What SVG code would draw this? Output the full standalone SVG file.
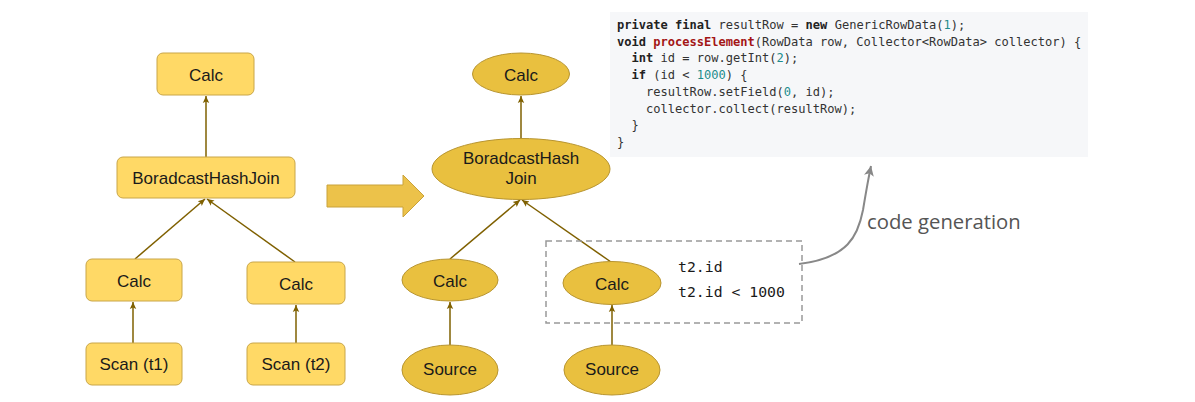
<svg xmlns="http://www.w3.org/2000/svg" width="1195" height="402" viewBox="0 0 1195 402">
<defs>
<marker id="ah" markerWidth="8" markerHeight="8" refX="7" refY="4" orient="auto" markerUnits="userSpaceOnUse">
<path d="M0,0.8 L7,4 L0,7.2 L1.5,4 Z" fill="#7f6000"/>
</marker>
<marker id="gh" markerWidth="12" markerHeight="12" refX="10" refY="6" orient="auto" markerUnits="userSpaceOnUse">
<path d="M0,1 L10,6 L0,11 L2.5,6 Z" fill="#888"/>
</marker>
<style>
.rn{fill:#ffd966;stroke:#c9a648;stroke-width:1}
.en{fill:#e9c03f;stroke:#b89530;stroke-width:1}
.t{font-family:"Liberation Sans",Arial,sans-serif;font-size:17px;fill:#1a1a1a;text-anchor:middle}
.e{stroke:#7f6000;stroke-width:1.5;fill:none;marker-end:url(#ah)}
.code{font-family:"DejaVu Sans Mono",monospace;font-size:12.05px;fill:#333;white-space:pre}
.k{font-weight:bold;fill:#222}
.f{font-weight:bold;fill:#a31515}
.n{fill:#1c8c8c}
.m{font-family:"DejaVu Sans Mono",monospace;font-size:14.8px;fill:#1a1a1a}
</style>
</defs>
<rect width="1195" height="402" fill="#ffffff"/>

<g id="connectors">
<line class="e" x1="206" y1="157" x2="206" y2="96"/>
<line class="e" x1="135" y1="259" x2="205" y2="199"/>
<line class="e" x1="295" y1="262" x2="207" y2="199"/>
<line class="e" x1="133" y1="343" x2="133" y2="302"/>
<line class="e" x1="296" y1="343" x2="296" y2="305"/>
<line class="e" x1="521" y1="138" x2="521" y2="96"/>
<line class="e" x1="450" y1="259" x2="520" y2="200"/>
<line class="e" x1="611" y1="262" x2="522" y2="200"/>
<line class="e" x1="450" y1="345" x2="450" y2="302"/>
<line class="e" x1="612" y1="345" x2="612" y2="305"/>
<path d="M799,264 C848,258 858,236 863,210 C866,192 868,180 871,166" stroke="#888" stroke-width="2" fill="none" marker-end="url(#gh)"/>
</g>

<g id="left-calc-top"><rect class="rn" x="157" y="53" width="97" height="42" rx="6"/><text class="t" x="206" y="80.5">Calc</text></g>
<g id="left-join"><rect class="rn" x="117" y="157" width="178" height="41" rx="6"/><text class="t" x="206" y="184">BoradcastHashJoin</text></g>
<g id="left-calc-1"><rect class="rn" x="86" y="259" width="96" height="42" rx="6"/><text class="t" x="134" y="287">Calc</text></g>
<g id="left-calc-2"><rect class="rn" x="247" y="262" width="98" height="42" rx="6"/><text class="t" x="296" y="290">Calc</text></g>
<g id="left-scan-1"><rect class="rn" x="86" y="343" width="96" height="42" rx="6"/><text class="t" x="134" y="370">Scan (t1)</text></g>
<g id="left-scan-2"><rect class="rn" x="247" y="343" width="98" height="42" rx="6"/><text class="t" x="296" y="370">Scan (t2)</text></g>

<g id="big-arrow"><polygon points="327,185 403,185 403,175 424,196 403,217 403,207 327,207" fill="#ecc24a" stroke="#c9a23a" stroke-width="1"/></g>

<g id="mid-calc-top"><ellipse class="en" cx="521" cy="74" rx="48.5" ry="21"/><text class="t" x="521" y="80.5">Calc</text></g>
<g id="mid-join"><ellipse class="en" cx="521" cy="169" rx="89" ry="30.5"/><text class="t" x="521" y="164">BoradcastHash</text><text class="t" x="521" y="184">Join</text></g>
<g id="mid-calc-1"><ellipse class="en" cx="450" cy="280" rx="48" ry="21"/><text class="t" x="450" y="287">Calc</text></g>
<g id="mid-calc-2"><ellipse class="en" cx="612" cy="283" rx="49" ry="21.5"/><text class="t" x="612" y="289.5">Calc</text></g>
<g id="mid-source-1"><ellipse class="en" cx="450" cy="370" rx="48" ry="25"/><text class="t" x="450" y="375">Source</text></g>
<g id="mid-source-2"><ellipse class="en" cx="612" cy="370" rx="48" ry="25"/><text class="t" x="612" y="375">Source</text></g>

<g id="calc-detail">
<rect x="546" y="241" width="256" height="82" fill="none" stroke="#999" stroke-width="1.5" stroke-dasharray="6,4"/>
<text class="m" x="678" y="272">t2.id</text>
<text class="m" x="678" y="297">t2.id &lt; 1000</text>
</g>

<g id="code-gen-label"><text x="867" y="229" font-family="'Open Sans',sans-serif" font-size="20.3" fill="#555">code generation</text></g>

<g id="code-box">
<rect x="610" y="12" width="478" height="145" fill="#f6f7f9"/>
<text class="code" x="617" y="29"><tspan class="k">private</tspan> <tspan class="k">final</tspan> resultRow = <tspan class="k">new</tspan> GenericRowData(<tspan class="n">1</tspan>);</text>
<text class="code" x="617" y="45.7"><tspan class="k">void</tspan> <tspan class="f">processElement</tspan>(RowData row, Collector&lt;RowData&gt; collector) {</text>
<text class="code" x="617" y="62.4">  <tspan class="k">int</tspan> id = row.getInt(<tspan class="n">2</tspan>);</text>
<text class="code" x="617" y="79.1">  <tspan class="k">if</tspan> (id &lt; <tspan class="n">1000</tspan>) {</text>
<text class="code" x="617" y="95.8">    resultRow.setField(<tspan class="n">0</tspan>, id);</text>
<text class="code" x="617" y="112.5">    collector.collect(resultRow);</text>
<text class="code" x="617" y="129.2">  }</text>
<text class="code" x="617" y="145.9">}</text>
</g>
</svg>
